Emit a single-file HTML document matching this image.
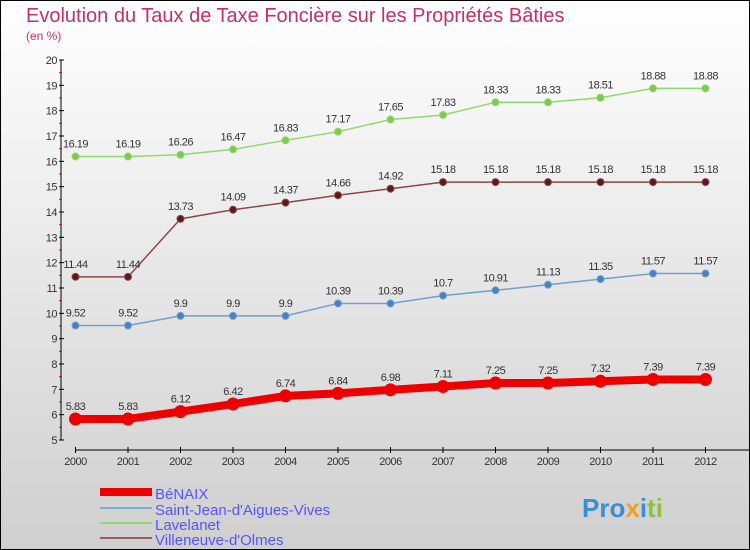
<!DOCTYPE html>
<html><head><meta charset="utf-8"><style>
body{margin:0}
#c{width:750px;height:550px;position:relative;overflow:hidden;font-family:"Liberation Sans","DejaVu Sans",sans-serif}
</style></head><body>
<div id="c">
<svg id="s" width="750" height="550" xmlns="http://www.w3.org/2000/svg">
<defs><linearGradient id="bg" x1="0" y1="0" x2="0" y2="1"><stop offset="0" stop-color="#ffffff"/><stop offset="1" stop-color="#cfcfcf"/></linearGradient></defs>
<rect x="0.5" y="0.5" width="749" height="549" fill="url(#bg)" stroke="#000"/>
<text x="26" y="22" font-size="20" fill="#c8305f">Evolution du Taux de Taxe Foncière sur les Propriétés Bâties</text>
<text x="26" y="40" font-size="12" fill="#c8305f">(en %)</text>
<g id="axes"></g><g id="series"></g>
<g>
<rect x="100" y="488" width="52" height="8" fill="#ee0000"/>
<text x="155" y="499" font-size="15" fill="#5555ff">BéNAIX</text>
<rect x="100" y="507" width="52" height="2" fill="#7aaad0"/>
<text x="155" y="515" font-size="15" fill="#5555ff">Saint-Jean-d'Aigues-Vives</text>
<rect x="100" y="522" width="52" height="2" fill="#90d870"/>
<text x="155" y="530" font-size="15" fill="#5555ff">Lavelanet</text>
<rect x="100" y="537" width="52" height="2" fill="#9a6060"/>
<text x="155" y="545" font-size="15" fill="#5555ff">Villeneuve-d'Olmes</text>
</g>
<text x="582" y="517" font-size="26" font-weight="bold"><tspan fill="#3a8fd0">Pro</tspan><tspan fill="#f0a020">x</tspan><tspan fill="#3a8fd0">i</tspan><tspan fill="#90c040">ti</tspan></text>
</svg>
</div>
<script>
const years=[2000,2001,2002,2003,2004,2005,2006,2007,2008,2009,2010,2011,2012];
const yTicks=[5,6,7,8,9,10,11,12,13,14,15,16,17,18,19,20];
const benaix=[5.83,5.83,6.12,6.42,6.74,6.84,6.98,7.11,7.25,7.25,7.32,7.39,7.39];
const saintJean=[9.52,9.52,9.9,9.9,9.9,10.39,10.39,10.7,10.91,11.13,11.35,11.57,11.57];
const lavelanet=[16.19,16.19,16.26,16.47,16.83,17.17,17.65,17.83,18.33,18.33,18.51,18.88,18.88];
const villeneuve=[11.44,11.44,13.73,14.09,14.37,14.66,14.92,15.18,15.18,15.18,15.18,15.18,15.18];
const NS="http://www.w3.org/2000/svg";
const X=i=>75.5+i*52.5, Y=v=>440-(v-5)*(380/15);
function mk(t,a,p){const e=document.createElementNS(NS,t);for(const k in a)e.setAttribute(k,a[k]);p.appendChild(e);return e;}
const ax=document.getElementById('axes');
let l=mk('line',{x1:61,y1:60,x2:61,y2:440,stroke:'#000'},ax);


l=mk('line',{x1:75,y1:450,x2:750,y2:450,stroke:'#000'},ax);


yTicks.forEach(v=>{
 mk('line',{x1:59,y1:Y(v),x2:64,y2:Y(v),stroke:'#000'},ax);
 if(v<20)mk('line',{x1:59,y1:Y(v+0.5),x2:62,y2:Y(v+0.5),stroke:'#e00'},ax);
 const t=mk('text',{x:57,y:Y(v)+4,'font-size':11,'text-anchor':'end',fill:'#333','letter-spacing':'-0.5'},ax);
 t.textContent=v;
 
 
});
years.forEach((y,i)=>{
 mk('line',{x1:X(i),y1:447,x2:X(i),y2:453,stroke:'#000'},ax);
 const t=mk('text',{x:X(i),y:465,'font-size':11,'text-anchor':'middle',fill:'#333','letter-spacing':'-0.5'},ax);
 t.textContent=y;
 
 
});
const sg=document.getElementById('series');
function draw(data,name,color,dot,w,r){
 const g=mk('g',{},sg);
 
 
 const pl=mk('polyline',{points:data.map((v,i)=>X(i)+','+Y(v)).join(' '),fill:'none',stroke:color,'stroke-width':w,'stroke-linejoin':'round'},g);
 
 
 data.forEach((v,i)=>{
  const c=mk('circle',{cx:X(i),cy:Y(v),r:r,fill:dot,stroke:color,'stroke-width':1},g);
  
  
  const t=mk('text',{x:X(i),y:Y(v)-9,'font-size':11,'text-anchor':'middle',fill:'#333','letter-spacing':'-0.5'},g);
  t.textContent=v;
  
  
 });
}
draw(lavelanet,'lavelanet','#90d870','#80c850',1.5,3.5);
draw(villeneuve,'villeneuve','#8a4848','#5a1a1a',1.5,3.5);
draw(saintJean,'saint-jean','#70a0d0','#4a80c0',1.5,3.5);
draw(benaix,'benaix','#ee0000','#ee0000',8,6);
</script>
</body></html>
